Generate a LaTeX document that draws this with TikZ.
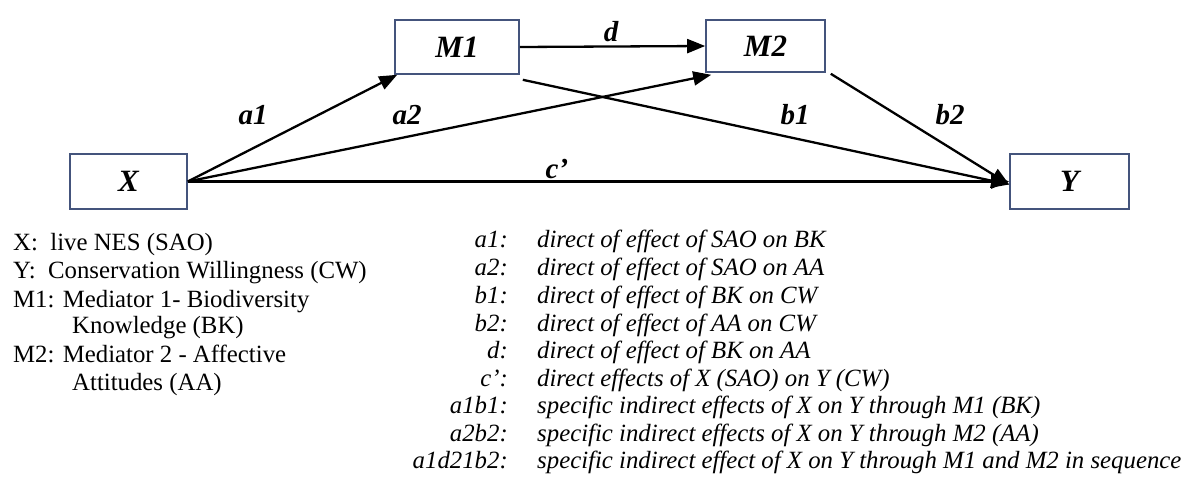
\documentclass[tikz,border=0pt]{standalone}
\usepackage{fontspec}
\setmainfont{Liberation Serif}
\usetikzlibrary{arrows.meta}
\definecolor{boxblue}{RGB}{68,84,124}
\tikzset{
  var/.style={draw=boxblue, line width=1.6pt, inner sep=0pt, font=\fontsize{31}{34}\selectfont\bfseries\itshape},
  path/.style={line width=2.3pt, -{Triangle[length=18pt,width=14pt]}},
  plab/.style={font=\fontsize{29}{32}\selectfont\bfseries\itshape, inner sep=0pt},
  leg/.style={font=\fontsize{24.8}{27}\selectfont, inner sep=0pt, anchor=base west},
  lkey/.style={font=\fontsize{24.8}{27}\selectfont\itshape, inner sep=0pt, anchor=base east},
  ltxt/.style={font=\fontsize{24.8}{27}\selectfont\itshape, inner sep=0pt, anchor=base west}
}
\begin{document}
\begin{tikzpicture}[x=1pt,y=-1pt]
\useasboundingbox (0,0) rectangle (1184,481);
% boxes
\node[var, minimum width=117pt, minimum height=55pt] (X) at (128.5,181.5) {X};
\node[var, minimum width=124pt, minimum height=54pt] (M1) at (457,47) {M1};
\node[var, minimum width=119pt, minimum height=52pt] (M2) at (765.5,46) {M2};
\node[var, minimum width=119pt, minimum height=55pt] (Y) at (1069.5,181.5) {Y};
% connectors
\coordinate (m1o) at ([shift={(3pt,-5pt)}]M1.south east);
\coordinate (m2o) at ([shift={(5pt,-1pt)}]M2.south east);
\coordinate (yin) at ([shift={(0pt,-3pt)}]Y.west);
\draw[path] (X.east) -- ([shift={(3pt,0pt)}]M1.south west);
\draw[path] (X.east) -- ([shift={(6pt,-2pt)}]M2.south west);
\draw[path] (X.east) -- (Y.west);
\draw[path] (M1.east) -- (M2.west);
\draw[path] (m1o) -- (yin);
\draw[path] (m2o) -- (yin);
% path labels
\node[plab] (la1) at (253,115) {a1};
\node[plab] (la2) at (407,115) {a2};
\node[plab] (lc) at (557,169) {c’};
\node[plab] (ld) at (611,32) {d};
\node[plab] (lb1) at (795,115) {b1};
\node[plab] (lb2) at (950,115) {b2};
% left legend
\node[leg] (g1) at (13,251) {X:\ \ live NES (SAO)};
\node[leg] (g2) at (13,279) {Y:\ \ Conservation Willingness (CW)};
\node[leg] (g3) at (13,307) {M1: Mediator 1- Biodiversity};
\node[leg] (g4) at (72,334) {Knowledge (BK)};
\node[leg] (g5) at (13,362) {M2: Mediator 2 - Affective};
\node[leg] (g6) at (72,390) {Attitudes (AA)};
% right legend
\node[lkey] (k1) at (508,248) {a1:};
\node[ltxt] (t1) at (537,248) {direct of effect of SAO on BK};
\node[lkey] (k2) at (508,276) {a2:};
\node[ltxt] (t2) at (537,276) {direct of effect of SAO on AA};
\node[lkey] (k3) at (508,303) {b1:};
\node[ltxt] (t3) at (537,303) {direct of effect of BK on CW};
\node[lkey] (k4) at (508,331) {b2:};
\node[ltxt] (t4) at (537,331) {direct of effect of AA on CW};
\node[lkey] (k5) at (508,358) {d:};
\node[ltxt] (t5) at (537,358) {direct of effect of BK on AA};
\node[lkey] (k6) at (508,386) {c’:};
\node[ltxt] (t6) at (537,386) {direct effects of X (SAO) on Y (CW)};
\node[lkey] (k7) at (508,413) {a1b1:};
\node[ltxt] (t7) at (537,413) {specific indirect effects of X on Y through M1 (BK)};
\node[lkey] (k8) at (508,441) {a2b2:};
\node[ltxt] (t8) at (537,441) {specific indirect effects of X on Y through M2 (AA)};
\node[lkey] (k9) at (508,468) {a1d21b2:};
\node[ltxt] (t9) at (537,468) {specific indirect effect of X on Y through M1 and M2 in sequence};
\end{tikzpicture}
\end{document}
